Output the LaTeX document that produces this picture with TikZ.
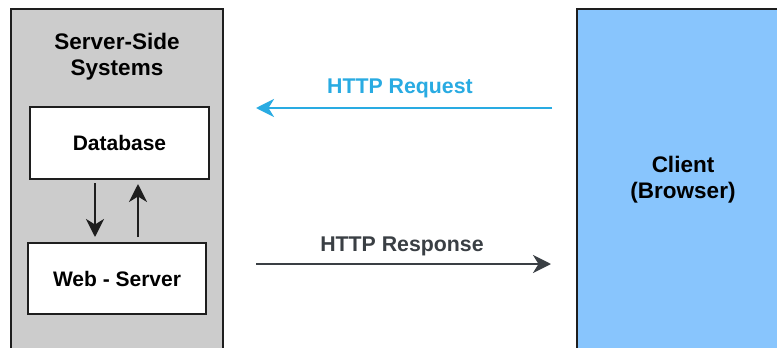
\documentclass[tikz,border=0pt]{standalone}
\usepackage{fontspec}
\setmainfont{Liberation Sans}
\usetikzlibrary{arrows.meta}
\definecolor{panelgray}{HTML}{CCCCCC}
\definecolor{clientblue}{HTML}{88C5FD}
\definecolor{reqblue}{HTML}{29ABE2}
\definecolor{resgray}{HTML}{3A3F44}
\definecolor{edge}{HTML}{1E1E1E}
\begin{document}
\begin{tikzpicture}[x=1pt,y=-1pt,
  every node/.style={align=center},
  boxfont/.style={font=\fontsize{21}{27}\selectfont\bfseries},
  titlefont/.style={font=\fontsize{22.5}{26}\selectfont\bfseries},
  linkfont/.style={font=\fontsize{21.3}{26}\selectfont\bfseries},
  panel/.style={draw=edge, line width=2pt, inner sep=0pt},
  box/.style={draw=edge, line width=2pt, fill=white, inner sep=0pt, boxfont},
  flow/.style={line width=2.4pt, -{Stealth[length=18pt,width=18pt,inset=5.5pt]}},
  req/.style={flow, draw=reqblue},
  res/.style={flow, draw=resgray}]
\useasboundingbox (0,0) rectangle (777,348);
\clip (0,0) rectangle (777,348);
\fill[white] (0,0) rectangle (777,348);

% server side panel and client panel (run off the page edges)
\node[panel, fill=panelgray, minimum width=212pt, minimum height=370pt] (server) at (117,194) {};
\node[panel, fill=clientblue, minimum width=230pt, minimum height=370pt] (client) at (692,194) {};

\node[titlefont] (servertitle) at (117,57) {Server-Side\\Systems};
\node[titlefont] (clienttitle) at (683,180) {Client\\(Browser)};

% inner components
\node[box, minimum width=179pt, minimum height=72pt] (db) at (119.5,143) {Database};
\node[box, minimum width=178pt, minimum height=71pt] (web) at (117,278.5) {Web - Server};

\draw[flow, draw=edge, line width=2.2pt, shorten <=3pt, shorten >=5pt] ([xshift=-24.5pt]db.south) -- ([xshift=-22pt]web.north);
\draw[flow, draw=edge, line width=2.2pt, shorten <=5pt, shorten >=4pt] ([xshift=21pt]web.north) -- ([xshift=18.5pt]db.south);

% request / response
\coordinate (rq) at (0,108);
\coordinate (rs) at (0,264);
\draw[req, shorten <=24pt, shorten >=32pt] (client.west |- rq) -- (server.east |- rq);
\draw[res, shorten <=32pt, shorten >=25pt] (server.east |- rs) -- (client.west |- rs);
\node[linkfont, text=reqblue] (reqlabel) at (400,88) {HTTP Request};
\node[linkfont, text=resgray] (reslabel) at (402,246) {HTTP Response};
\end{tikzpicture}
\end{document}
